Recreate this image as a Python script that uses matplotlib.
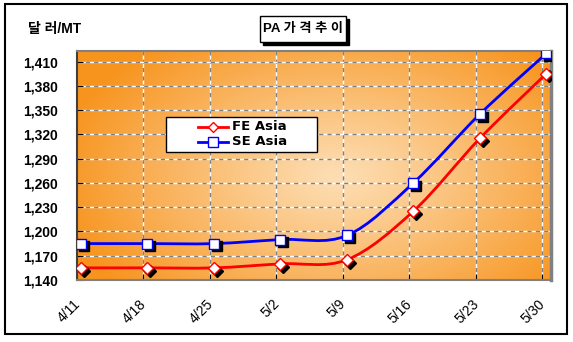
import numpy as np
import matplotlib
matplotlib.use("Agg")
import matplotlib.pyplot as plt
from matplotlib.path import Path
from matplotlib.patches import PathPatch, Rectangle
from matplotlib.transforms import ScaledTranslation

plt.rcParams['font.family'] = ['Liberation Sans', 'Noto Sans CJK KR', 'DejaVu Sans']

dates = ['4/11', '4/18', '4/25', '5/2', '5/9', '5/16', '5/23', '5/30']
fe_asia = [1155, 1155, 1155, 1160, 1165, 1225, 1315, 1395]
se_asia = [1185, 1185, 1185, 1190, 1195, 1260, 1345, 1420]
y_ticks = [1140, 1170, 1200, 1230, 1260, 1290, 1320, 1350, 1380, 1410]


def smooth_path(xs, ys):
    # Catmull-Rom style bezier through every point
    pts = np.column_stack([xs, ys]).astype(float)
    ext = np.vstack([pts[0], pts, pts[-1]])
    verts = [tuple(pts[0])]
    codes = [Path.MOVETO]
    for i in range(len(pts) - 1):
        p0, p1, p2, p3 = ext[i], ext[i + 1], ext[i + 2], ext[i + 3]
        c1 = p1 + (p2 - p0) / 6.0
        c2 = p2 - (p3 - p1) / 6.0
        verts += [tuple(c1), tuple(c2), tuple(p2)]
        codes += [Path.CURVE4] * 3
    return Path(verts, codes)


W, H = 573, 342
fig = plt.figure(figsize=(W / 100, H / 100), dpi=100)
fig.patch.set_facecolor('white')

# outer frame
fig.add_artist(Rectangle((5 / W, 1 - 334 / H), 562 / W, 330 / H,
                         transform=fig.transFigure, fill=False,
                         edgecolor='black', lw=1.5))

AX_L, AX_T, AX_W, AX_H = 77, 51, 474, 229
ax = fig.add_axes([AX_L / W, 1 - (AX_T + AX_H) / H, AX_W / W, AX_H / H])
x = np.arange(len(dates))
xlim = (-0.06, 7.07)
ylim = (1140, 1423)
ax.set_xlim(*xlim)
ax.set_ylim(*ylim)


def ax_xy(px, py):
    return (px - AX_L) / AX_W, 1 - (py - AX_T) / AX_H


# radial orange background
gx, gy = np.meshgrid(np.linspace(0, 1, 300), np.linspace(0, 1, 200))
r = np.sqrt(((gx - 0.55) / 0.6) ** 2 + ((gy - 0.55) / 0.75) ** 2)
t = np.clip(r, 0, 1) ** 1.1
light = np.array([253, 222, 180]) / 255
dark = np.array([247, 148, 30]) / 255
img = light[None, None, :] * (1 - t[..., None]) + dark[None, None, :] * t[..., None]
ax.imshow(img, extent=(*xlim, *ylim), aspect='auto', origin='upper', zorder=0)

# dashed grid: gray dashes with white gaps
grid_x = x - 0.06
for gxv in grid_x[1:]:
    ax.axvline(gxv, color='white', lw=1, zorder=1)
    ax.axvline(gxv, color='#808080', lw=1, ls=(0, (3, 3)), zorder=1)
for yv in y_ticks[1:]:
    ax.axhline(yv, color='white', lw=1, zorder=1)
    ax.axhline(yv, color='#808080', lw=1, ls=(0, (3, 3)), zorder=1)

series = [
    (fe_asia, 'FE Asia', '#FF0000', 'D', 6.5, 127),
    (se_asia, 'SE Asia', '#0000FF', 's', 7.5, 142),
]
shadow = ax.transData + ScaledTranslation(2 / 72, -2 / 72, fig.dpi_scale_trans)
for vals, name, color, marker, ms, row_y in series:
    ax.add_patch(PathPatch(smooth_path(x, vals), fill=False, edgecolor=color,
                           lw=2, zorder=3))
    ax.plot(x, vals, ls='none', marker=marker, ms=ms, color='black',
            transform=shadow, zorder=4)
    ax.plot(x, vals, ls='none', marker=marker, ms=ms, mfc='white',
            mec=color, mew=1, zorder=5)
    # legend entry
    (hx0, hy), (hx1, _) = ax_xy(198, row_y), ax_xy(228, row_y)
    ax.plot([hx0, hx1], [hy, hy], color=color, lw=2, transform=ax.transAxes,
            zorder=8)
    ax.plot([(hx0 + hx1) / 2], [hy], marker=marker, ms=ms - 1, mfc='white',
            mec=color, mew=1, transform=ax.transAxes, zorder=9)
    tx, _ = ax_xy(232, row_y)
    ax.text(tx, hy, name, transform=ax.transAxes, fontsize=9.5,
            fontweight='bold', family='DejaVu Sans', va='center', ha='left',
            zorder=9)

# legend box
lx0, ly0 = ax_xy(166, 152)
lx1, ly1 = ax_xy(317, 117)
ax.add_patch(Rectangle((lx0, ly0), lx1 - lx0, ly1 - ly0, transform=ax.transAxes,
                       facecolor='white', edgecolor='black', lw=1, zorder=7))

ax.set_yticks(y_ticks)
ax.set_yticklabels([f'{v:,}' for v in y_ticks], fontsize=10, fontweight='bold')
ax.set_xticks(grid_x)
ax.set_xticklabels(dates, fontsize=10, rotation=45, ha='right', va='top',
                   rotation_mode='anchor')
ax.tick_params(axis='y', direction='in', length=4, pad=13.5, color='black')
ax.tick_params(axis='x', direction='in', length=4, pad=12, color='black')
for lbl in ax.get_xticklabels():
    lbl.set_transform(lbl.get_transform() + ScaledTranslation(-3 / 72, 0, fig.dpi_scale_trans))

for side in ['top', 'left', 'bottom']:
    ax.spines[side].set_color('#808080')
    ax.spines[side].set_linewidth(1.5)
ax.spines['left'].set_color('#404040')
ax.spines['right'].set_color('#808080')
ax.spines['right'].set_linewidth(2.5)

fig.text(28 / W, 1 - 29 / H, '달 러/MT', fontsize=10, fontweight='bold',
         va='center', ha='left')

# title box with drop shadow
fig.add_artist(Rectangle((263 / W, 1 - 45 / H), 86 / W, 26 / H,
                         transform=fig.transFigure, facecolor='black',
                         edgecolor='black', lw=1))
fig.add_artist(Rectangle((260 / W, 1 - 42 / H), 86 / W, 26 / H,
                         transform=fig.transFigure, facecolor='white',
                         edgecolor='black', lw=1))
fig.text(303 / W, 1 - 29 / H, 'PA 가 격 추 이', fontsize=9.5,
         fontweight='bold', ha='center', va='center')

fig.savefig('out.png', dpi=100)
